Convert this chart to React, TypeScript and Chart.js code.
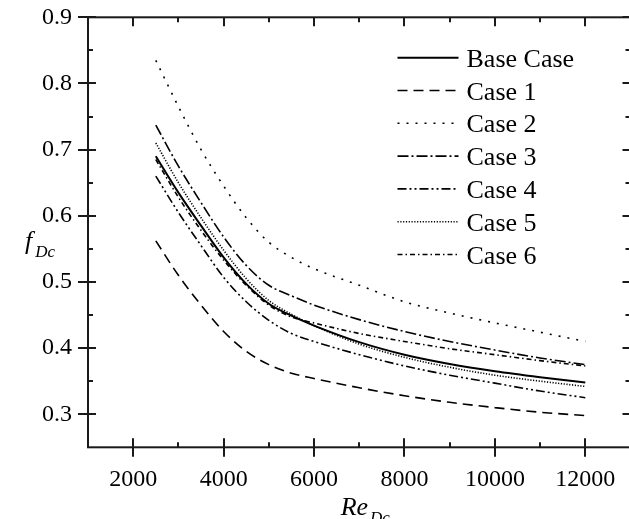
import React, { useEffect, useRef } from "react";
import { Chart, registerables } from "chart.js";

Chart.register(...registerables);

const reynolds = [2500, 3000, 3500, 4000, 4500, 5000, 5500, 6000, 7000, 8000, 9000, 10000, 11000, 12000];
const baseCase = [0.69, 0.635, 0.585, 0.537, 0.497, 0.467, 0.449, 0.434, 0.409, 0.39, 0.376, 0.365, 0.356, 0.348];
const case1 = [0.562, 0.51, 0.465, 0.425, 0.395, 0.375, 0.362, 0.354, 0.34, 0.328, 0.318, 0.31, 0.303, 0.298];
const case2 = [0.835, 0.765, 0.7, 0.645, 0.597, 0.56, 0.537, 0.52, 0.495, 0.47, 0.453, 0.438, 0.424, 0.41];
const case3 = [0.737, 0.675, 0.62, 0.568, 0.525, 0.495, 0.479, 0.465, 0.443, 0.425, 0.41, 0.397, 0.385, 0.375];
const case4 = [0.66, 0.605, 0.555, 0.507, 0.47, 0.442, 0.422, 0.41, 0.39, 0.373, 0.359, 0.347, 0.335, 0.325];
const case5 = [0.71, 0.65, 0.597, 0.548, 0.505, 0.472, 0.451, 0.434, 0.406, 0.386, 0.371, 0.359, 0.35, 0.342];
const case6 = [0.685, 0.628, 0.578, 0.533, 0.495, 0.465, 0.447, 0.438, 0.422, 0.41, 0.399, 0.39, 0.381, 0.373];

const seriesLabels = ["Base Case", "Case 1", "Case 2", "Case 3", "Case 4", "Case 5", "Case 6"];
const xMajorTicks = [2000, 4000, 6000, 8000, 10000, 12000];
const xMinorTicks = [1000, 3000, 5000, 7000, 9000, 11000, 13000];
const yMajorTicks = [0.3, 0.4, 0.5, 0.6, 0.7, 0.8, 0.9];
const yMinorTicks = [0.35, 0.45, 0.55, 0.65, 0.75, 0.85];

const SERIF = "'Liberation Serif', 'Times New Roman', serif";
const INK = "#1a1a1a";

const dashes: number[][] = [
  [],
  [10, 6],
  [2, 7],
  [11, 3, 2, 3],
  [9, 3, 2, 3, 2, 3],
  [1.2, 1.6],
  [5, 3, 1.5, 3],
];

const framePlugin = {
  id: "frameTicks",
  afterDatasetsDraw(chart: any) {
    const { ctx, chartArea: a, scales } = chart;
    const xs = scales.x;
    const ys = scales.y;
    ctx.save();
    ctx.strokeStyle = INK;
    ctx.lineWidth = 2;
    ctx.setLineDash([]);
    ctx.strokeRect(a.left, a.top, a.right - a.left, a.bottom - a.top);
    ctx.beginPath();
    xMajorTicks.forEach((v) => {
      const px = Math.round(xs.getPixelForValue(v));
      ctx.moveTo(px, a.bottom - 9);
      ctx.lineTo(px, a.bottom + 9.5);
      ctx.moveTo(px, a.top);
      ctx.lineTo(px, a.top + 9);
    });
    xMinorTicks.forEach((v) => {
      const px = Math.round(xs.getPixelForValue(v));
      ctx.moveTo(px, a.bottom);
      ctx.lineTo(px, a.bottom - 5);
      ctx.moveTo(px, a.top);
      ctx.lineTo(px, a.top + 5);
    });
    yMajorTicks.forEach((v) => {
      const py = Math.round(ys.getPixelForValue(v));
      ctx.moveTo(a.left - 10, py);
      ctx.lineTo(a.left + 8, py);
      ctx.moveTo(a.right - 8, py);
      ctx.lineTo(a.right + 10, py);
    });
    yMinorTicks.forEach((v) => {
      const py = Math.round(ys.getPixelForValue(v));
      ctx.moveTo(a.left, py);
      ctx.lineTo(a.left + 5, py);
      ctx.moveTo(a.right, py);
      ctx.lineTo(a.right - 5, py);
    });
    ctx.stroke();

    // legend
    const lx = a.right - 233;
    const ly0 = a.top + 40.4;
    ctx.font = `26px ${SERIF}`;
    ctx.fillStyle = "#000";
    ctx.textBaseline = "alphabetic";
    ctx.textAlign = "left";
    chart.data.datasets.forEach((ds: any, i: number) => {
      const y = ly0 + i * 32.8;
      ctx.beginPath();
      ctx.lineWidth = ds.borderWidth;
      ctx.strokeStyle = ds.borderColor;
      ctx.setLineDash(ds.borderDash || []);
      ctx.moveTo(lx, y);
      ctx.lineTo(lx + 61, y);
      ctx.stroke();
      ctx.fillText(ds.label, lx + 69, y + 9);
    });
    ctx.setLineDash([]);

    // axis titles
    const cx = (a.left + a.right) / 2;
    ctx.font = `italic 26px ${SERIF}`;
    const reW = ctx.measureText("Re").width;
    ctx.font = `italic 17px ${SERIF}`;
    const dcW = ctx.measureText("Dc").width;
    const startX = cx + 6 - (reW + dcW + 2) / 2;
    ctx.font = `italic 26px ${SERIF}`;
    ctx.fillText("Re", startX, a.bottom + 67.5);
    ctx.font = `italic 17px ${SERIF}`;
    ctx.fillText("Dc", startX + reW + 2, a.bottom + 76);

    const cy = (a.top + a.bottom) / 2;
    ctx.font = `italic 26px ${SERIF}`;
    const fW = ctx.measureText("f").width;
    ctx.fillText("f", 25, cy + 17);
    ctx.font = `italic 17px ${SERIF}`;
    ctx.fillText("Dc", 25 + fW + 3, cy + 25);
    ctx.restore();
  },
};

export default function App() {
  const ref = useRef<HTMLCanvasElement | null>(null);
  useEffect(() => {
    if (!ref.current) return;
    const series = [baseCase, case1, case2, case3, case4, case5, case6];
    const chart = new Chart(ref.current, {
      type: "line",
      data: {
        datasets: series.map((vals, i) => ({
          label: seriesLabels[i],
          data: reynolds.map((x, j) => ({ x, y: vals[j] })),
          borderColor: "#000",
          borderWidth: i === 0 ? 2 : 1.6,
          borderDash: dashes[i],
          pointRadius: 0,
          fill: false,
          cubicInterpolationMode: "monotone" as const,
        })),
      },
      options: {
        animation: false,
        responsive: true,
        maintainAspectRatio: false,
        events: [],
        layout: { padding: { top: 17.3, right: 9.5, left: 0, bottom: 0 } },
        plugins: { legend: { display: false }, tooltip: { enabled: false } },
        scales: {
          x: {
            type: "linear",
            min: 1000,
            max: 13000,
            grid: { display: false, drawTicks: false },
            border: { display: false },
            afterBuildTicks: (s: any) => {
              s.ticks = xMajorTicks.map((v) => ({ value: v }));
            },
            afterFit: (s: any) => {
              s.height = 71.7;
              s.paddingLeft = 0;
              s.paddingRight = 0;
            },
            ticks: {
              autoSkip: false,
              maxRotation: 0,
              padding: 18,
              color: "#000",
              font: { family: SERIF, size: 24 },
              callback: (v: any) => String(v),
            },
          },
          y: {
            type: "linear",
            min: 0.25,
            max: 0.9,
            grid: { display: false, drawTicks: false },
            border: { display: false },
            afterBuildTicks: (s: any) => {
              s.ticks = yMajorTicks.map((v) => ({ value: v }));
            },
            afterFit: (s: any) => {
              s.width = 88;
              s.paddingTop = 0;
              s.paddingBottom = 0;
            },
            ticks: {
              autoSkip: false,
              padding: 16,
              color: "#000",
              font: { family: SERIF, size: 24 },
              callback: (v: any) => Number(v).toFixed(1),
            },
          },
        },
      },
      plugins: [framePlugin],
    });
    return () => chart.destroy();
  }, []);

  return (
    <div style={{ position: "fixed", left: 0, top: 0, width: 629, height: 519, overflow: "hidden", background: "#fff" }}>
      <div style={{ position: "relative", width: 640, height: 519 }}>
        <canvas ref={ref} />
      </div>
    </div>
  );
}
